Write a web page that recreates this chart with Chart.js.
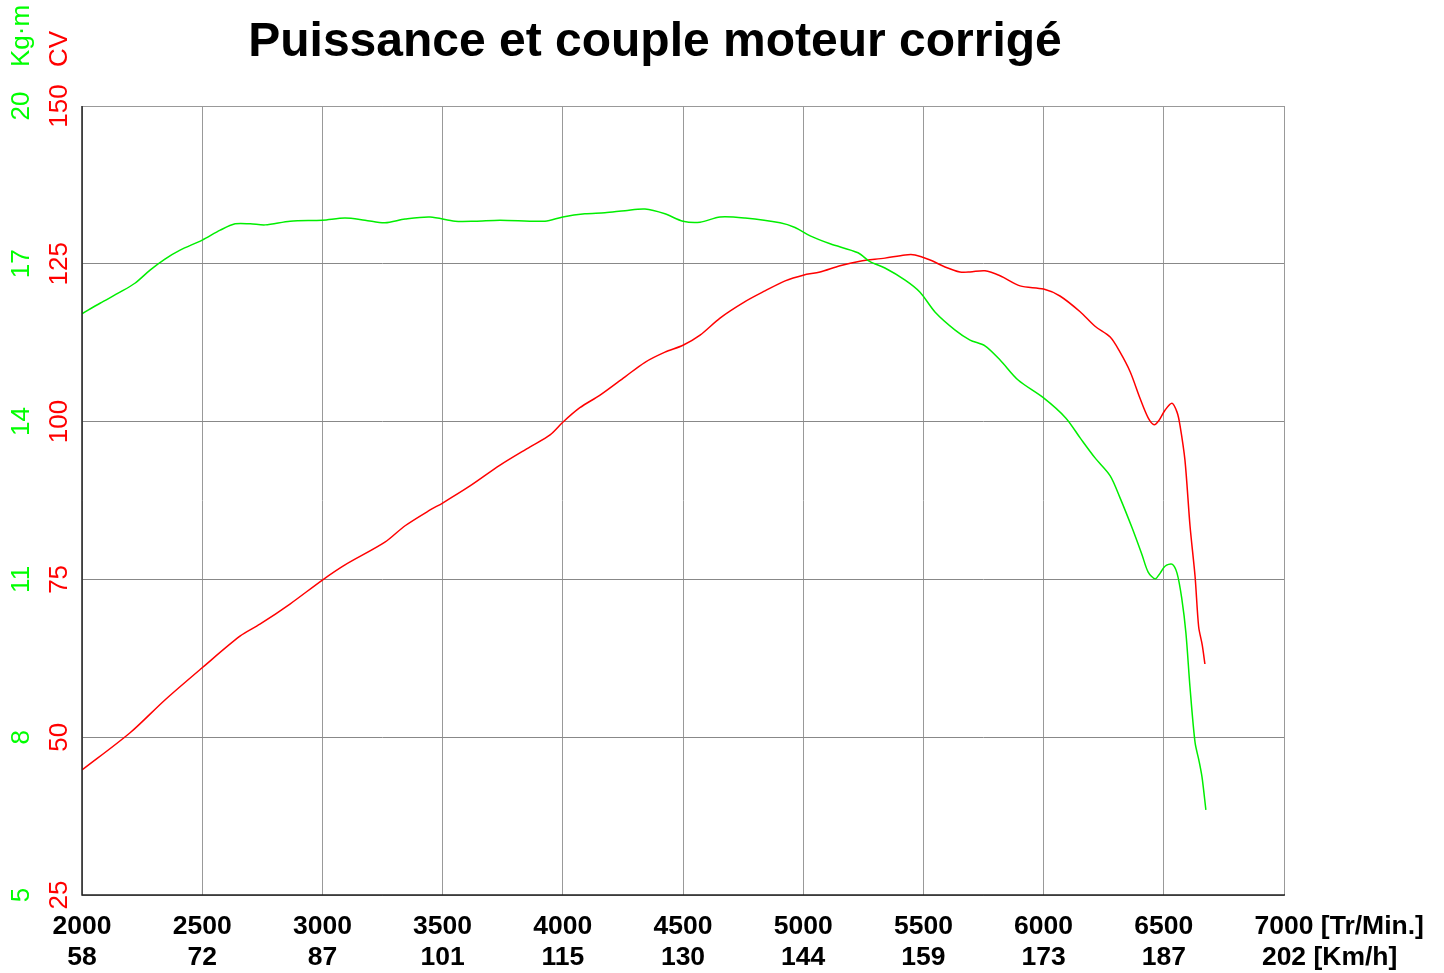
<!DOCTYPE html>
<html><head><meta charset="utf-8">
<script src="https://cdn.jsdelivr.net/npm/chart.js@4.4.1/dist/chart.umd.min.js"></script>
<style>html,body{margin:0;padding:0;background:#fff}#wrap{width:1444px;height:973px}</style>
</head><body><div id="wrap"><canvas id="c" width="1444" height="973"></canvas></div>
<script>
const TITLE = 'Puissance et couple moteur corrigé';
const rpmTicks = [2000,2500,3000,3500,4000,4500,5000,5500,6000,6500,7000];
const kmhTicks = ['58','72','87','101','115','130','144','159','173','187','202'];
const cvTicks = [25,50,75,100,125,150];
const kgmTicks = [5,8,11,14,17,20];

const powerRpm = [2000,2200,2345,2500,2657,2740,2865,3000,3094,3260,3344,3448,3500,3614,3739,3864,3947,4000,4071,4155,4259,4342,4425,4500,4571,4654,4758,4841,4925,5000,5070,5153,5236,5340,5424,5465,5528,5590,5652,5694,5756,5819,5902,6000,6068,6152,6214,6277,6318,6360,6401,6435,6460,6480,6505,6534,6555,6567,6588,6609,6630,6645,6660,6671];
const powerCV  = [44.8,50.7,55.9,61.0,66.0,67.9,71.1,74.9,77.3,80.9,83.5,86.0,87.1,89.8,93.1,96.0,97.9,99.9,102.2,104.2,107.1,109.4,111.0,112.1,113.7,116.4,119.0,120.7,122.3,123.2,123.7,124.7,125.4,125.9,126.4,126.4,125.6,124.5,123.7,123.7,123.9,123.1,121.5,121.0,119.9,117.4,115.1,113.4,111.0,107.9,103.7,100.6,99.5,100.2,101.8,102.9,101.5,99.5,93.9,83.5,75.5,67.5,64.6,61.6];

const torqueRpm = [2000,2075,2158,2220,2283,2345,2408,2500,2575,2637,2700,2762,2866,3000,3094,3177,3260,3344,3448,3552,3635,3739,3926,4000,4092,4175,4259,4342,4425,4500,4571,4654,4758,4904,4966,5029,5112,5228,5278,5340,5424,5486,5549,5632,5694,5756,5819,5894,6000,6092,6152,6214,6277,6318,6368,6410,6435,6464,6485,6505,6534,6555,6575,6592,6609,6630,6646,6659,6675];
const torqueKgm = [16.05,16.25,16.46,16.63,16.88,17.09,17.26,17.45,17.64,17.76,17.76,17.74,17.81,17.83,17.87,17.83,17.78,17.85,17.89,17.81,17.81,17.83,17.81,17.89,17.95,17.97,18.01,18.04,17.95,17.81,17.79,17.89,17.87,17.78,17.69,17.53,17.38,17.21,17.04,16.92,16.69,16.46,16.08,15.74,15.55,15.44,15.17,14.79,14.45,14.07,13.69,13.31,12.97,12.55,11.98,11.46,11.14,11.01,11.12,11.25,11.29,11.12,10.63,9.98,8.95,7.90,7.56,7.24,6.62];

const RED = '#ff0000', GREEN = '#00ee00';

const pts = (xs, ys) => xs.map((x, i) => ({x, y: ys[i]}));

const labelsPlugin = {
  id: 'customLabels',
  afterDraw(chart) {
    const ctx = chart.ctx, xs = chart.scales.x, ycv = chart.scales.ycv, ykg = chart.scales.ykg;
    const ca = chart.chartArea;
    ctx.save();
    // title
    ctx.fillStyle = '#000';
    ctx.font = 'bold 48px "Liberation Sans", Arial, sans-serif';
    ctx.textAlign = 'center'; ctx.textBaseline = 'middle';
    ctx.fillText(TITLE, 655, 43);
    // x labels
    ctx.font = 'bold 26.5px "Liberation Sans", Arial, sans-serif';
    ctx.textBaseline = 'middle';
    rpmTicks.forEach((r, i) => {
      const px = xs.getPixelForValue(r);
      if (i === rpmTicks.length - 1) {
        ctx.textAlign = 'left';
        const w1 = ctx.measureText(String(r)).width;
        ctx.fillText(r + ' [Tr/Min.]', px - w1 / 2, 927);
        const w2 = ctx.measureText(kmhTicks[i]).width;
        ctx.fillText(kmhTicks[i] + ' [Km/h]', px - w2 / 2, 958);
      } else {
        ctx.textAlign = 'center';
        ctx.fillText(String(r), px, 927);
        ctx.fillText(kmhTicks[i], px, 958);
      }
    });
    // y labels (rotated)
    ctx.font = '26px "Liberation Sans", Arial, sans-serif';
    const drawRot = (text, x, y, color, align) => {
      ctx.save();
      ctx.translate(x, y);
      ctx.rotate(-Math.PI / 2);
      ctx.fillStyle = color;
      ctx.textAlign = align;
      ctx.textBaseline = 'middle';
      ctx.fillText(text, 0, 0);
      ctx.restore();
    };
    cvTicks.forEach(v => drawRot(String(v), 60, ycv.getPixelForValue(v), RED, 'center'));
    kgmTicks.forEach(v => drawRot(String(v), 22, ykg.getPixelForValue(v), '#00ff00', 'center'));
    drawRot('CV', 60, 67, RED, 'left');
    drawRot('Kg·m', 22, 67, '#00ff00', 'left');
    // axis borders
    ctx.strokeStyle = '#999';
    ctx.lineWidth = 1;
    ctx.beginPath();
    ctx.moveTo(ca.left, ca.top + 0.5); ctx.lineTo(ca.right + 0.5, ca.top + 0.5); ctx.lineTo(ca.right + 0.5, ca.bottom);
    ctx.stroke();
    ctx.strokeStyle = '#222';
    ctx.lineWidth = 1.5;
    ctx.beginPath();
    ctx.moveTo(ca.left, ca.top); ctx.lineTo(ca.left, ca.bottom); ctx.lineTo(ca.right + 1, ca.bottom);
    ctx.stroke();
    ctx.restore();
  }
};

new Chart(document.getElementById('c'), {
  type: 'line',
  data: {
    datasets: [
      { label: 'Couple', data: pts(torqueRpm, torqueKgm), yAxisID: 'ykg', borderColor: GREEN, borderWidth: 1.5, pointRadius: 0, tension: 0.3, fill: false },
      { label: 'Puissance', data: pts(powerRpm, powerCV), yAxisID: 'ycv', borderColor: RED, borderWidth: 1.5, pointRadius: 0, tension: 0.3, fill: false }
    ]
  },
  options: {
    responsive: false,
    animation: false,
    events: [],
    layout: { padding: { left: 82, top: 106, right: 160, bottom: 78 } },
    plugins: { legend: { display: false }, title: { display: false }, tooltip: { enabled: false } },
    scales: {
      x: {
        type: 'linear', min: 2000, max: 7000,
        afterBuildTicks: s => { s.ticks = rpmTicks.map(v => ({value: v})); },
        ticks: { display: false },
        grid: { color: '#999', lineWidth: 1, drawTicks: false },
        border: { display: false }
      },
      ycv: {
        type: 'linear', position: 'left', min: 25, max: 150,
        afterBuildTicks: s => { s.ticks = cvTicks.map(v => ({value: v})); },
        ticks: { display: false },
        grid: { color: '#888', lineWidth: 1, drawTicks: false },
        border: { display: false },
        afterFit: s => { s.width = 0; }
      },
      ykg: {
        type: 'linear', position: 'left', min: 5, max: 20, display: false
      }
    }
  },
  plugins: [labelsPlugin]
});
</script></body></html>
